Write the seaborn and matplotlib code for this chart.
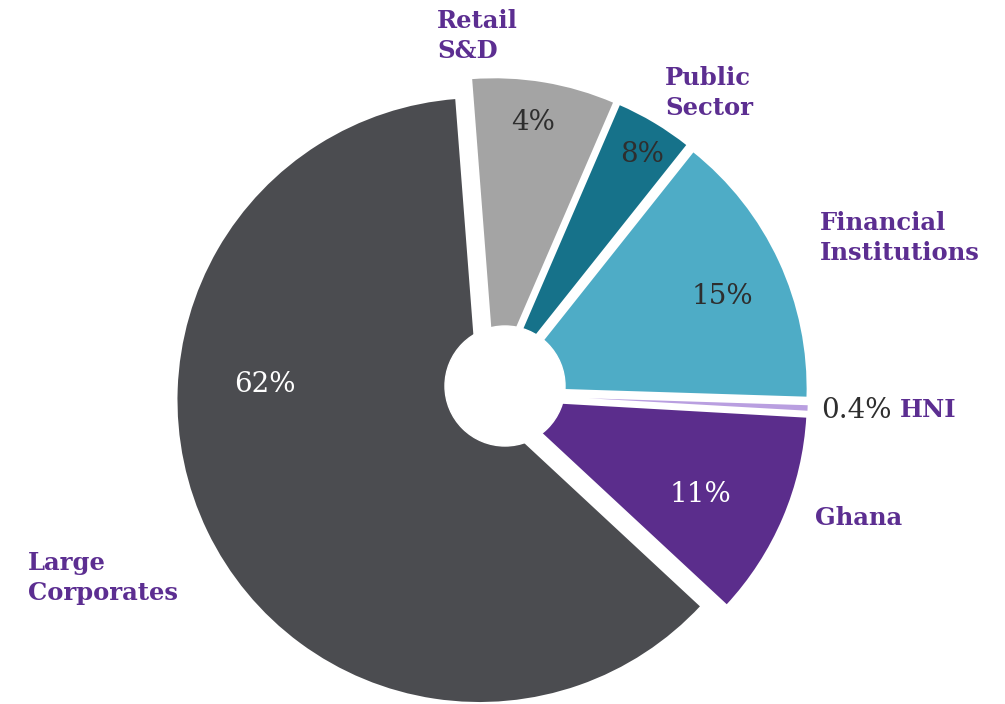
import matplotlib
matplotlib.use("Agg")
import matplotlib.pyplot as plt
import seaborn as sns

sns.set_style("white")
plt.rcParams["font.family"] = ["DejaVu Serif"]

# slices, clockwise from the top (sizes)
segments = ["Retail\nS&D", "Public\nSector", "Financial\nInstitutions", "HNI", "Ghana", "Large\nCorporates"]
shares = [7.7, 4.2, 14.8, 0.4, 11.0, 61.8]
# labels as printed on the original chart
pct_labels = ["4%", "8%", "15%", "0.4%", "11%", "62%"]

colors = ["#a4a4a4", "#16728a", "#4eacc6", "#b99fe0", "#5b2d8c", "#4b4c50"]
purple = "#5c2e91"

W, H = 1005, 704
cx, cy, R = 492, 394, 303   # pie centre / radius in pixels

fig = plt.figure(figsize=(W / 100, H / 100), dpi=100)
ax = fig.add_axes([0, 0, 1, 1])
ax.pie(shares, colors=colors, explode=[0.046] * len(shares), startangle=94.4,
       counterclock=False, radius=1, wedgeprops=dict(edgecolor="white", linewidth=1.5))
# white hole, slightly off the pie centre like the original
ax.add_patch(plt.Circle((13 / R, 8 / R), 60 / R, color="white", zorder=5))
ax.set_xlim(-cx / R, (W - cx) / R)
ax.set_ylim(-(H - cy) / R, cy / R)
ax.set_aspect("equal")
ax.axis("off")


def fx(px):
    return px / W


def fy(py):
    return 1 - py / H


# percentage labels
pct_pos = [(533, 123), (642, 155), (722, 297), (856, 410), (700, 494), (265, 385)]
pct_col = ["#2e2e2e", "#2e2e2e", "#2e2e2e", "#2e2e2e", "white", "white"]
for t, (x, y), c in zip(pct_labels, pct_pos, pct_col):
    fig.text(fx(x), fy(y), t, ha="center", va="center", fontsize=20, color=c)

# category labels
cat_pos = [(437, 36), (665, 93), (820, 238), (900, 410), (815, 518), (28, 578)]
for t, (x, y) in zip(segments, cat_pos):
    fig.text(fx(x), fy(y), t, ha="left", va="center", fontsize=17.5, color=purple,
             fontweight="bold", linespacing=1.35)

plt.savefig("out.png", dpi=100)
